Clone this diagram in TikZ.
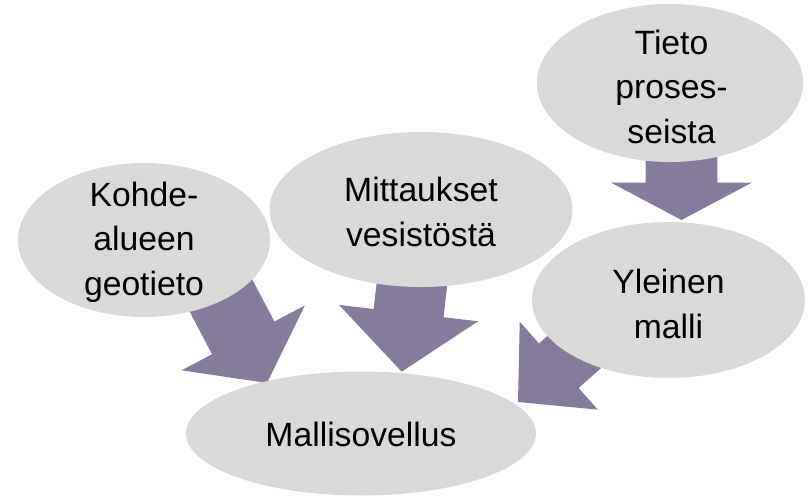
\documentclass[tikz,border=0pt]{standalone}
\usepackage{fontspec}
\setmainfont{Liberation Sans}
\usetikzlibrary{shapes.geometric,calc}
\definecolor{ellgray}{RGB}{217,217,217}
\definecolor{arrpurple}{RGB}{133,124,155}
\tikzset{
  bubble/.style={ellipse, fill=ellgray, inner sep=0pt},
  label text/.style={inner sep=0pt, align=center,
    font=\fontsize{33.7}{44.5}\selectfont},
  arrowfill/.style={fill=arrpurple}
}
% #1 tail, #2 tip, #3 head length, #4 half head width, #5 half shaft width
\newcommand\blockarrow[5]{%
  \path coordinate (ba-b) at ($(#2)!#3!(#1)$);
  \fill[arrowfill] ($(#1)!#5!90:(#2)$) -- ($(ba-b)!#5!90:(#2)$) --
    ($(ba-b)!#4!90:(#2)$) -- (#2) -- ($(ba-b)!#4!-90:(#2)$) --
    ($(ba-b)!#5!-90:(#2)$) -- ($(#1)!#5!-90:(#2)$) -- cycle;}
\begin{document}
\begin{tikzpicture}[x=1pt,y=-1pt]
\useasboundingbox (0,0) rectangle (812,496);
% arrow end points
\coordinate (a1tail) at (681.5,100);
\coordinate (a1tip)  at (681.5,220);
\coordinate (a2tail) at (418,233);
\coordinate (a2tip)  at (401.7,371.7);
\coordinate (a3tail) at (197,250);
\coordinate (a3tip)  at (267,383);
\coordinate (a4tail) at (608,322);
\coordinate (a4tip)  at (518,402);
% block arrows (behind the ellipses)
\blockarrow{a1tail}{a1tip}{37.3pt}{70.3pt}{35.8pt}
\blockarrow{a2tail}{a2tip}{59pt}{70pt}{35.2pt}
\blockarrow{a3tail}{a3tip}{51pt}{69.6pt}{35.2pt}
\blockarrow{a4tail}{a4tip}{54.6pt}{58.8pt}{29.8pt}
% ellipses
\node[bubble, minimum width=266pt, minimum height=158pt] (tieto) at (670,83) {};
\node[bubble, minimum width=303pt, minimum height=155pt] (mitt) at (421,209.5) {};
\node[bubble, minimum width=252pt, minimum height=154pt] (kohde) at (144,240) {};
\node[bubble, minimum width=273pt, minimum height=156pt] (yleinen) at (668.5,300) {};
\node[bubble, minimum width=350pt, minimum height=124pt] (malli) at (361,433.5) {};
% texts
\node[label text] (tieto-t) at ([xshift=1.5pt,yshift=-3.5pt]tieto.center) {Tieto\\proses-\\seista};
\node[label text] (mitt-t) at ([yshift=-2.5pt]mitt.center) {Mittaukset\\vesistöstä};
\node[label text] (kohde-t) at ([yshift=-2pt]kohde.center) {Kohde-\\alueen\\geotieto};
\node[label text] (yleinen-t) at ([yshift=-4pt]yleinen.center) {Yleinen\\malli};
\node[label text] (malli-t) at ([yshift=-1pt]malli.center) {Mallisovellus};
\end{tikzpicture}
\end{document}
